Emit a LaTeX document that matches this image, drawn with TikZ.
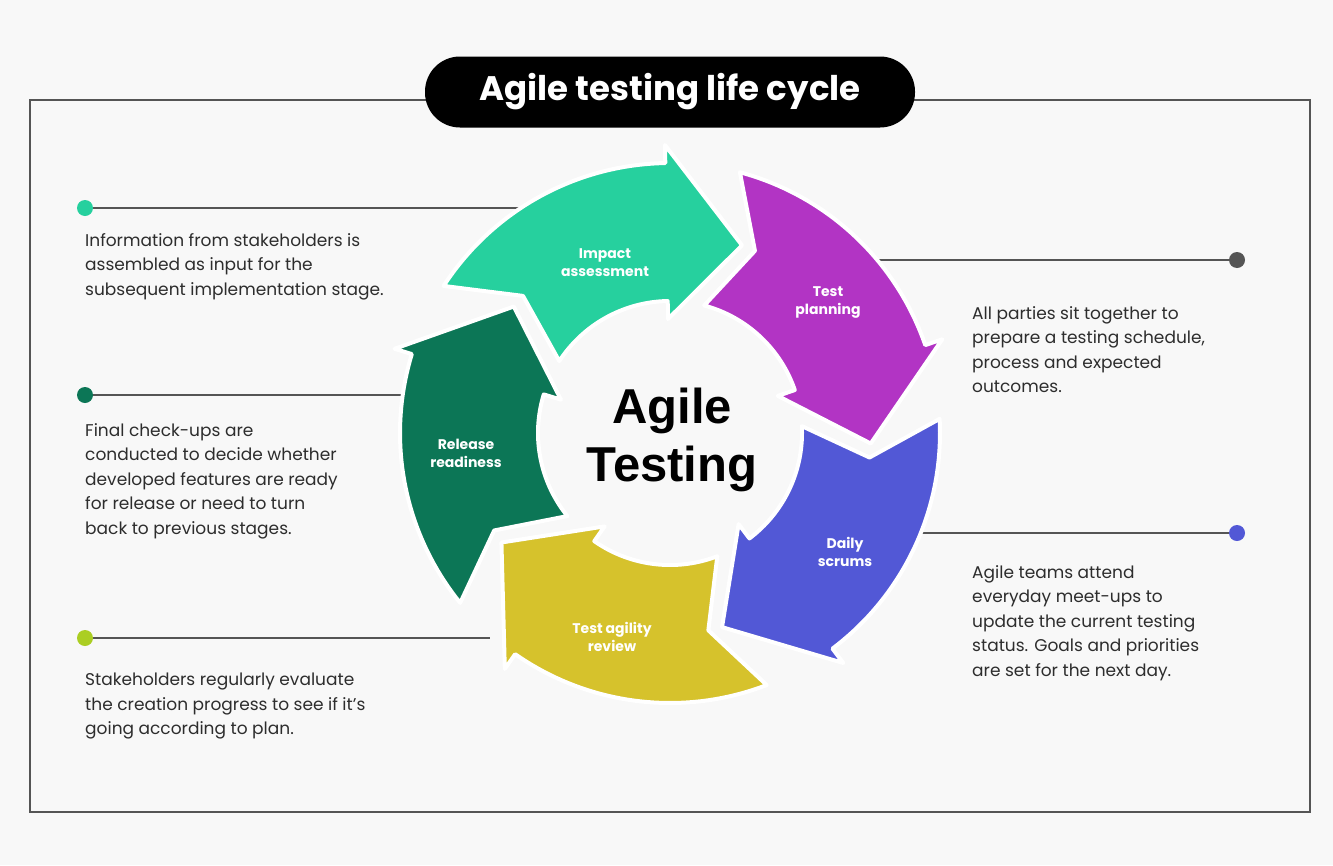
\documentclass[tikz,border=0pt]{standalone}
\usepackage{fontspec}
\setmainfont{Poppins}
\newfontfamily\arialfont{Liberation Sans}
\usetikzlibrary{positioning}

\definecolor{bgcol}{RGB}{248,248,248}
\definecolor{mint}{RGB}{38,208,158}
\definecolor{plum}{RGB}{178,52,196}
\definecolor{indigo}{RGB}{82,88,214}
\definecolor{mustard}{RGB}{214,194,44}
\definecolor{pine}{RGB}{12,118,86}
\definecolor{linegray}{RGB}{85,85,85}
\definecolor{textgray}{RGB}{45,45,45}

% ring sizes
\newcommand\rin{132}
\newcommand\rout{270}
\newcommand\rmid{201}

\begin{document}
\begin{tikzpicture}[x=1pt,y=-1pt,
  note/.style={anchor=north west,inner sep=0pt,align=left,text=textgray,font=\fontsize{17}{24.5}\selectfont},
  dot/.style={circle,inner sep=0pt,minimum size=16pt},
  callout/.style={draw=linegray,line width=2pt},
  arrowtxt/.style={text=white,align=center,font=\fontsize{14}{18}\selectfont\bfseries}]

  \fill[bgcol] (0,0) rectangle (1333,865);
  \useasboundingbox (0,0) rectangle (1333,865);

  \draw[linegray,line width=2pt] (30,100) rectangle (1310,812);
  \node[fill=black,rounded corners=35pt,minimum width=490pt,minimum height=71pt,
    text=white,font=\fontsize{34}{40}\selectfont\bfseries] (title) at (670,92) {Agile testing life cycle};

  % callouts
  \node[dot,fill=mint] (dot1) at (85,208) {};
  \node[dot,fill=linegray] (dot2) at (1237,260) {};
  \node[dot,fill=pine] (dot3) at (85,395) {};
  \node[dot,fill=indigo] (dot4) at (1237,533) {};
  \node[dot,fill=mustard!80!green] (dot5) at (85,638) {};
  \coordinate (end1) at (560,208);
  \coordinate (end2) at (870,260);
  \coordinate (end3) at (420,395);
  \coordinate (end4) at (910,533);
  \coordinate (end5) at (490,638);
  \draw[callout] (dot1) -- (end1);
  \draw[callout] (end2) -- (dot2);
  \draw[callout] (dot3) -- (end3);
  \draw[callout] (end4) -- (dot4);
  \draw[callout] (dot5) -- (end5);

  \node[note] (txt1) at (85,233) {Information from stakeholders is\\assembled as input for the\\subsequent implementation stage.};
  \node[note] (txt2) at (972,306) {All parties sit together to\\prepare a testing schedule,\\process and expected\\outcomes.};
  \node[note] (txt3) at (85,423) {Final check-ups are\\conducted to decide whether\\developed features are ready\\for release or need to turn\\back to previous stages.};
  \node[note] (txt4) at (972,565) {Agile teams attend\\everyday meet-ups to\\update the current testing\\status. Goals and priorities\\are set for the next day.};
  \node[note] (txt5) at (85,673) {Stakeholders regularly evaluate\\the creation progress to see if it's\\going according to plan.};

  % the five ring arrows, clockwise
  \begin{scope}[shift={(670,433)}]
    \foreach \tip/\col in {291/mint,363/plum,435/indigo,507/mustard,579/pine}{
      \pgfmathsetmacro\tail{\tip-78}
      \pgfmathsetmacro\hb{\tip-22}
      \fill[\col,draw=white,line width=4pt,line join=round]
        (\tail:\rin) -- ({\tail+10}:\rmid) -- (\tail:\rout)
        -- plot[domain=\tail:\hb,samples=40] (\x:\rout)
        -- (\hb:{\rout+18}) -- (\tip:\rmid) -- (\hb:{\rin-18})
        -- plot[domain=\hb:\tail,samples=40] (\x:\rin) -- cycle;
    }
  \end{scope}

  \node[arrowtxt] (lab1) at (605,263) {Impact\\assessment};
  \node[arrowtxt] (lab2) at (828,303) {Test\\planning};
  \node[arrowtxt] (lab3) at (845,552) {Daily\\scrums};
  \node[arrowtxt] (lab4) at (612,637) {Test agility\\review};
  \node[arrowtxt] (lab5) at (466,453) {Release\\readiness};

  \node[font=\arialfont\fontsize{49}{58}\selectfont\bfseries,align=center] (core) at (672,440) {Agile\\Testing};
\end{tikzpicture}
\end{document}
